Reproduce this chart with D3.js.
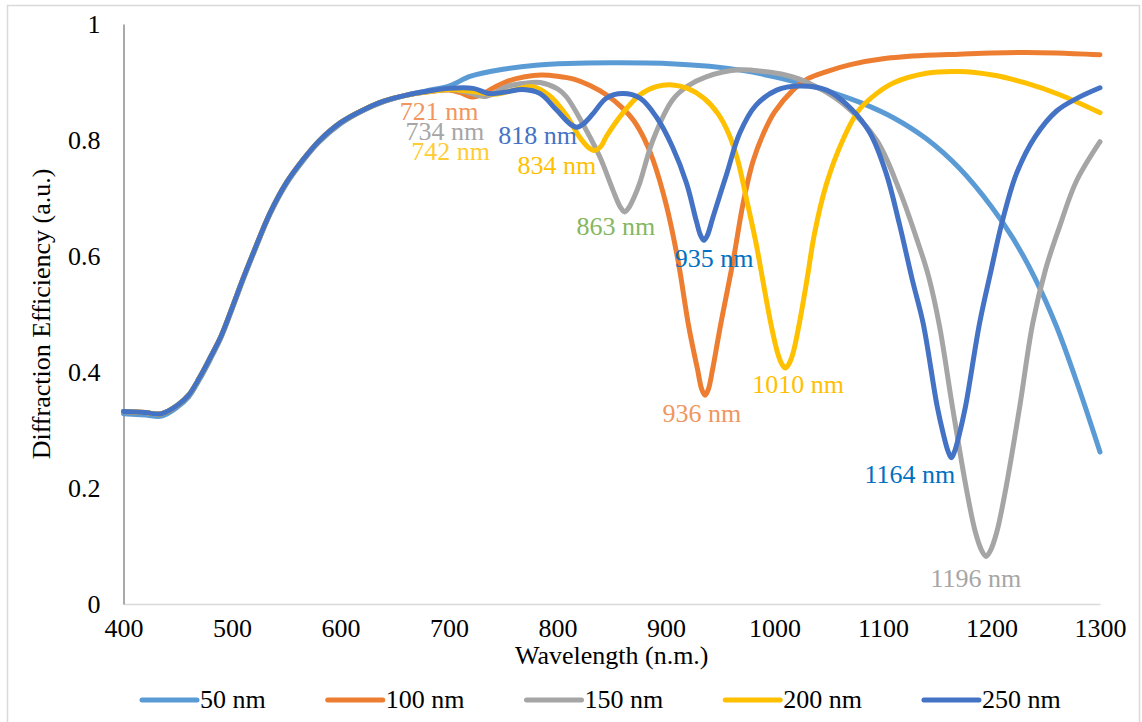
<!DOCTYPE html>
<html lang="en">
<head>
<meta charset="UTF-8">
<title>Diffraction Efficiency vs Wavelength</title>
<style>
    body {
        margin: 0;
        background: #fff;
    }
    svg {
        display: block;
    }
    text {
        font-family: "Liberation Serif", "Times New Roman", serif;
    }
</style>
</head>
<body>
<svg id="chart" width="1142" height="722"></svg>

<script src="https://d3js.org/d3.v7.min.js"></script>
<script>
    // values (wavelength in nm, efficiency in a.u.)
    const wl50 = [400, 420, 435, 450, 460, 470, 480, 490, 500, 510, 520, 535, 550, 565, 580, 600, 620, 640, 660, 680,
        700, 720, 750, 780, 810, 850, 900, 940, 970, 1000, 1030, 1050, 1080, 1110, 1140, 1170, 1200, 1220, 1240, 1260, 1280, 1300];
    const de50 = [0.328, 0.326, 0.324, 0.340, 0.357, 0.387, 0.422, 0.460, 0.508, 0.558, 0.605, 0.672, 0.724, 0.763, 0.796, 0.828, 0.850, 0.866, 0.877, 0.885,
        0.893, 0.910, 0.922, 0.929, 0.932, 0.933, 0.932, 0.927, 0.920, 0.909, 0.895, 0.884, 0.864, 0.838, 0.802, 0.752, 0.685, 0.630, 0.562, 0.478, 0.375, 0.262];

    const wl100 = [400, 420, 435, 450, 460, 470, 480, 490, 500, 510, 520, 535, 550, 565, 580, 600, 620, 640, 660, 680,
        700, 710, 721, 730, 740, 755, 770, 785, 800, 815, 830, 845, 860, 870, 880, 888, 900, 911, 921, 929, 933, 936, 939, 943, 950, 962, 971, 980,
        990, 1000, 1017, 1030, 1048, 1070, 1100, 1140, 1170, 1200, 1232, 1260, 1300];
    const de100 = [0.332, 0.330, 0.328, 0.343, 0.360, 0.390, 0.425, 0.462, 0.510, 0.560, 0.607, 0.674, 0.726, 0.765, 0.798, 0.830, 0.851, 0.867, 0.877, 0.883,
        0.886, 0.882, 0.874, 0.878, 0.889, 0.902, 0.909, 0.912, 0.910, 0.905, 0.894, 0.878, 0.855, 0.834, 0.802, 0.766, 0.690, 0.593, 0.478, 0.405, 0.370, 0.360, 0.370, 0.405, 0.478, 0.593, 0.690, 0.762,
        0.812, 0.848, 0.886, 0.905, 0.918, 0.930, 0.940, 0.946, 0.948, 0.950, 0.951, 0.950, 0.947];

    const wl150 = [400, 420, 435, 450, 460, 470, 480, 490, 500, 510, 520, 535, 550, 565, 580, 600, 620, 640, 660, 680,
        700, 715, 734, 753, 770, 784, 800, 808, 823, 839, 851, 858, 862, 866, 871, 876, 888, 906, 920, 937, 968, 990, 1010, 1032, 1063, 1094,
        1115, 1131, 1142, 1152, 1164, 1177, 1185, 1191, 1195, 1199, 1205, 1213, 1226, 1238, 1250, 1263, 1278, 1300];
    const de150 = [0.332, 0.330, 0.328, 0.343, 0.360, 0.390, 0.425, 0.462, 0.510, 0.560, 0.607, 0.674, 0.726, 0.765, 0.798, 0.830, 0.851, 0.867, 0.877, 0.883,
        0.887, 0.883, 0.875, 0.892, 0.898, 0.899, 0.888, 0.875, 0.829, 0.771, 0.714, 0.684, 0.676, 0.684, 0.703, 0.727, 0.800, 0.869, 0.893, 0.909, 0.921, 0.918, 0.912, 0.898, 0.863, 0.800,
        0.714, 0.630, 0.565, 0.480, 0.340, 0.197, 0.125, 0.092, 0.082, 0.092, 0.125, 0.197, 0.340, 0.484, 0.578, 0.652, 0.728, 0.797];

    const wl200 = [400, 420, 435, 450, 460, 470, 480, 490, 500, 510, 520, 535, 550, 565, 580, 600, 620, 640, 660, 680,
        700, 720, 742, 760, 777, 793, 808, 820, 828, 834, 840, 845, 860, 876, 891, 906, 920, 935, 948, 958, 966, 974, 983, 990, 997, 1003, 1007, 1010, 1013, 1017,
        1023, 1030, 1037, 1048, 1063, 1078, 1094, 1109, 1140, 1170, 1201, 1232, 1263, 1300];
    const de200 = [0.332, 0.330, 0.328, 0.343, 0.360, 0.390, 0.425, 0.462, 0.510, 0.560, 0.607, 0.674, 0.726, 0.765, 0.798, 0.830, 0.851, 0.867, 0.877, 0.883,
        0.887, 0.884, 0.879, 0.886, 0.892, 0.876, 0.843, 0.806, 0.788, 0.782, 0.789, 0.806, 0.846, 0.878, 0.892, 0.895, 0.889, 0.872, 0.845, 0.810, 0.766, 0.700, 0.622, 0.550, 0.480, 0.432, 0.413, 0.407, 0.413, 0.432,
        0.485, 0.560, 0.640, 0.725, 0.800, 0.852, 0.880, 0.898, 0.915, 0.918, 0.912, 0.898, 0.878, 0.847];

    const wl250 = [400, 420, 435, 450, 460, 470, 480, 490, 500, 510, 520, 535, 550, 565, 580, 600, 620, 640, 660, 680,
        700, 722, 738, 753, 768, 784, 799, 812, 818, 824, 833, 845, 860, 876, 891, 906, 919, 928, 932, 935, 938, 943, 956, 968, 983, 1002, 1023, 1048,
        1069, 1088, 1103, 1115, 1127, 1137, 1150, 1156, 1160, 1163, 1166, 1170, 1176, 1189, 1199, 1210, 1223, 1240, 1260, 1280, 1300];
    const de250 = [0.332, 0.330, 0.328, 0.343, 0.360, 0.390, 0.425, 0.462, 0.510, 0.560, 0.607, 0.674, 0.726, 0.765, 0.798, 0.830, 0.851, 0.867, 0.877, 0.884,
        0.889, 0.889, 0.880, 0.883, 0.887, 0.880, 0.852, 0.827, 0.822, 0.828, 0.846, 0.872, 0.880, 0.872, 0.840, 0.788, 0.725, 0.660, 0.635, 0.627, 0.635, 0.665, 0.742, 0.812, 0.860, 0.886, 0.893, 0.886,
        0.857, 0.812, 0.742, 0.656, 0.559, 0.484, 0.340, 0.290, 0.263, 0.252, 0.263, 0.290, 0.340, 0.484, 0.570, 0.660, 0.742, 0.805, 0.850, 0.873, 0.890];

    const seriesNames = ["50 nm", "100 nm", "150 nm", "200 nm", "250 nm"];
    const seriesColors = ["#5b9bd5", "#ed7d31", "#a5a5a5", "#ffc000", "#4472c4"];

    const xTicks = [400, 500, 600, 700, 800, 900, 1000, 1100, 1200, 1300];
    const yTicks = [0, 0.2, 0.4, 0.6, 0.8, 1];

    // dip labels: text, anchor (wavelength, efficiency) of the text's left baseline
    const dipLabels = ["721 nm", "734 nm", "742 nm", "818 nm", "834 nm", "863 nm", "935 nm", "936 nm", "1010 nm", "1164 nm", "1196 nm"];
    const dipLabelWl = [654.7, 659.8, 665.3, 745.4, 763.1, 817.5, 908, 896.7, 979.6, 1083, 1143.8];
    const dipLabelDe = [0.834, 0.800, 0.766, 0.793, 0.741, 0.636, 0.581, 0.313, 0.364, 0.209, 0.029];
    const dipLabelColors = ["#f1965e", "#a6a6a6", "#ffcc33", "#4472c4", "#ffc000", "#84b760", "#0070c0", "#f1965e", "#ffc000", "#0070c0", "#a6a6a6"];

    const wlData = [wl50, wl100, wl150, wl200, wl250];
    const deData = [de50, de100, de150, de200, de250];

    const svg = d3.select("#chart");

    // chart border
    svg.append("rect")
        .attr("x", 7.5).attr("y", 5.5)
        .attr("width", 1132).attr("height", 740)
        .attr("fill", "none")
        .attr("stroke", "#d9d9d9")
        .attr("stroke-width", 1.5);

    const x = d3.scaleLinear().domain([400, 1300]).range([123.5, 1100]);
    const y = d3.scaleLinear().domain([0, 1]).range([604, 24]);

    // x axis
    const xAxis = svg.append("g")
        .attr("transform", `translate(0,${y(0)})`)
        .call(d3.axisBottom(x).tickValues(xTicks).tickSize(0).tickPadding(14.5).tickFormat(d3.format("d")));
    xAxis.select(".domain").attr("stroke", "#d9d9d9").attr("stroke-width", 1.5);
    xAxis.selectAll("text")
        .attr("font-family", "Liberation Serif")
        .attr("font-size", 26)
        .attr("fill", "#000");

    // y axis
    const yAxis = svg.append("g")
        .attr("transform", `translate(${x(400)},0)`)
        .call(d3.axisLeft(y).tickValues(yTicks).tickSize(0).tickPadding(23).tickFormat(d3.format("~g")));
    yAxis.select(".domain").attr("stroke", "#8c8c8c").attr("stroke-width", 1.5);
    yAxis.selectAll("text")
        .attr("font-family", "Liberation Serif")
        .attr("font-size", 26)
        .attr("fill", "#000");

    // axis titles
    svg.append("text")
        .attr("x", (x(400) + x(1300)) / 2)
        .attr("y", 664)
        .attr("text-anchor", "middle")
        .attr("font-size", 26)
        .text("Wavelength (n.m.)");

    svg.append("text")
        .attr("transform", `translate(50,${(y(0) + y(1)) / 2}) rotate(-90)`)
        .attr("text-anchor", "middle")
        .attr("font-size", 26)
        .text("Diffraction Efficiency (a.u.)");

    // curves
    const line = d3.line()
        .x(d => x(d[0]))
        .y(d => y(d[1]))
        .curve(d3.curveCatmullRom.alpha(0.5));

    seriesNames.forEach((name, i) => {
        const pts = wlData[i].map((w, j) => [w, deData[i][j]]);
        svg.append("path")
            .datum(pts)
            .attr("fill", "none")
            .attr("stroke", seriesColors[i])
            .attr("stroke-width", 5)
            .attr("stroke-linecap", "round")
            .attr("stroke-linejoin", "round")
            .attr("d", line);
    });

    // dip labels
    svg.append("g")
        .selectAll("text")
        .data(dipLabels)
        .enter().append("text")
        .attr("x", (d, i) => x(dipLabelWl[i]))
        .attr("y", (d, i) => y(dipLabelDe[i]))
        .attr("font-size", 26)
        .attr("font-family", d => d === "1196 nm" ? "Liberation Sans, Arial, sans-serif" : null)
        .attr("fill", (d, i) => dipLabelColors[i])
        .text(d => d);

    // legend
    const legend = svg.append("g");
    let lx = 142;
    seriesNames.forEach((name, i) => {
        legend.append("line")
            .attr("x1", lx).attr("x2", lx + 55)
            .attr("y1", 700).attr("y2", 700)
            .attr("stroke", seriesColors[i])
            .attr("stroke-width", 5)
            .attr("stroke-linecap", "round");
        const t = legend.append("text")
            .attr("x", lx + 58)
            .attr("y", 708)
            .attr("font-size", 26)
            .text(name);
        lx += 58 + t.node().getComputedTextLength() + 62;
    });
</script>
</body>
</html>
